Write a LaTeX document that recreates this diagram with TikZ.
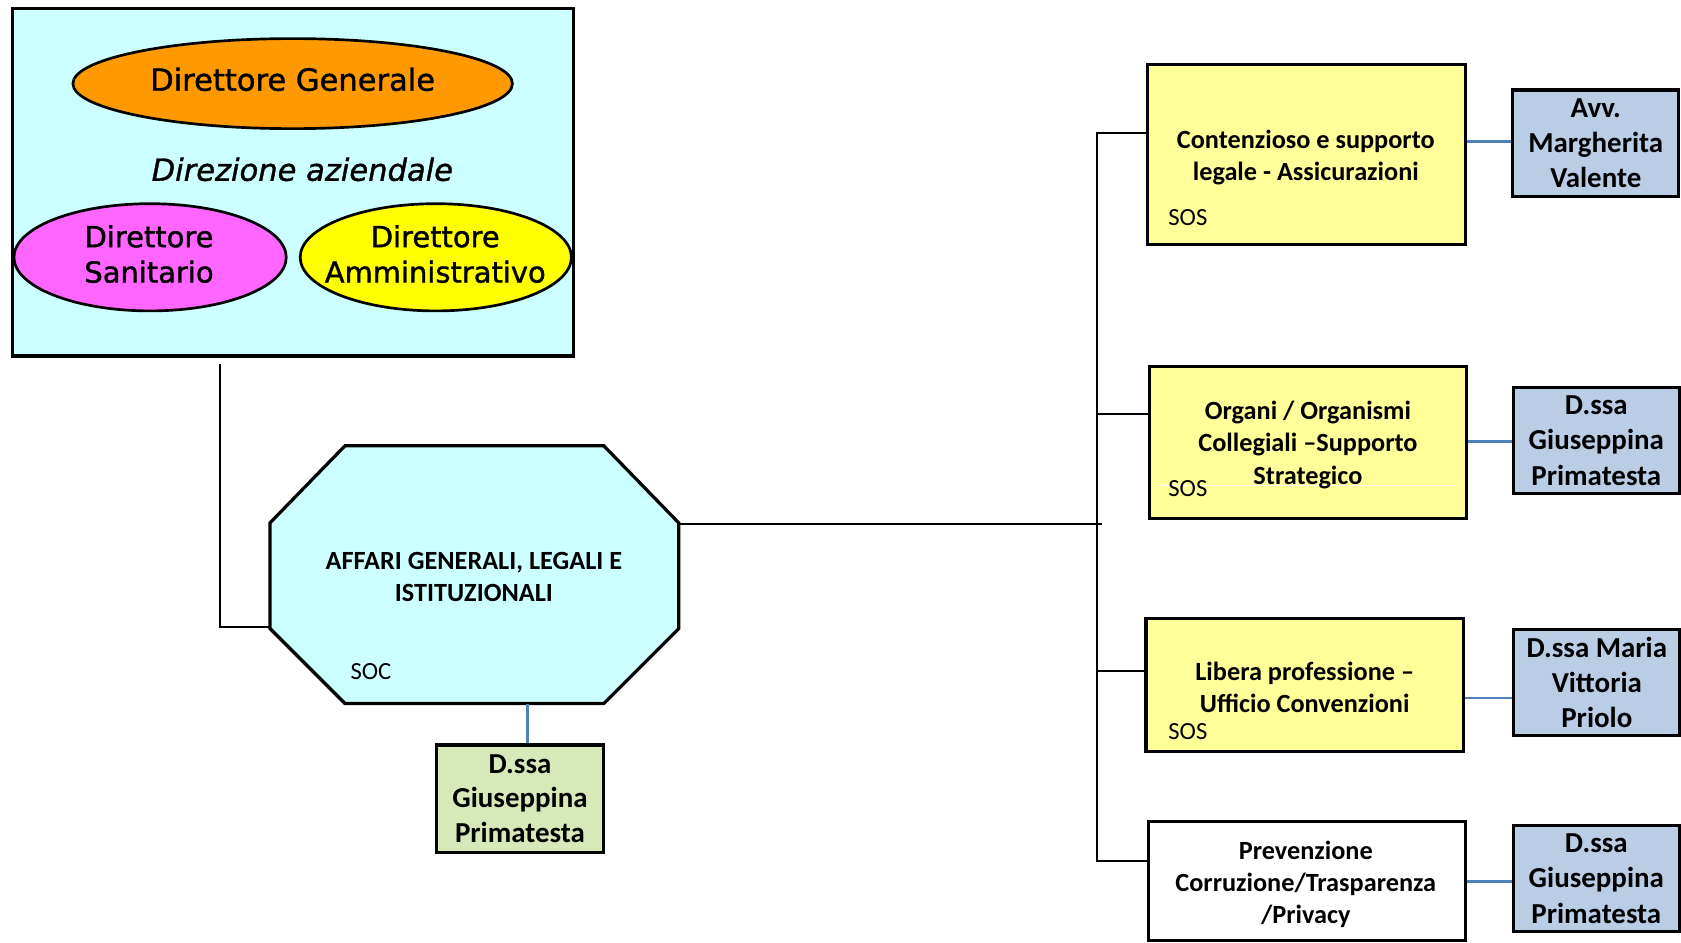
\documentclass[tikz,border=0pt]{standalone}
\usepackage{fontspec}
\setmainfont{Carlito}
\newfontfamily\dvs[FakeBold=1.2]{DejaVu Sans}
\usetikzlibrary{calc,shapes.geometric}
\definecolor{cyanbg}{HTML}{CCFFFF}
\definecolor{orangeel}{HTML}{FF9900}
\definecolor{magel}{HTML}{FF66FF}
\definecolor{yelel}{HTML}{FFFF00}
\definecolor{yelbox}{HTML}{FFFF99}
\definecolor{bluebox}{HTML}{B9CDE5}
\definecolor{greenbox}{HTML}{D7E9B9}
\definecolor{blueline}{HTML}{4F81BD}
\tikzset{
  unitbox/.style={draw=black, line width=3pt, fill=yelbox, inner sep=0pt},
  unittext/.style={align=center, inner sep=0pt, font=\bfseries\fontsize{24.5}{30}\selectfont},
  personbox/.style={draw=black, line width=3pt, fill=bluebox, align=center, inner sep=0pt,
    minimum width=155pt, minimum height=99pt, font=\bfseries\fontsize{27}{33}\selectfont},
  dirEllipse/.style={ellipse, draw=black, line width=2.5pt, inner sep=0pt},
  eltext/.style={align=center, inner sep=0pt, font=\dvs\fontsize{27}{33}\selectfont},
  tag/.style={anchor=center, inner sep=0pt, font=\fontsize{23}{28}\selectfont},
  link/.style={black, line width=1.8pt},
  bluelink/.style={blueline, line width=2.5pt}
}
\begin{document}
\begin{tikzpicture}[x=1pt,y=-1pt]
\useasboundingbox (0,0) rectangle (1568,879);
\fill[white] (0,0) rectangle (1568,879);

% Direzione aziendale
\node[draw=black, line width=3pt, fill=cyanbg, minimum width=523pt, minimum height=324pt, inner sep=0pt] (dir) at (273.5,170) {};
\node[dirEllipse, fill=orangeel, minimum width=410pt, minimum height=84pt] (dg) at (273,78) {};
\node[eltext, font=\dvs\fontsize{28.5}{33}\selectfont] (dgt) at (273,74) {Direttore Generale};
\node[inner sep=0pt, font=\dvs\itshape\fontsize{28.5}{33}\selectfont] (daz) at (282,158) {Direzione aziendale};
\node[dirEllipse, fill=magel, minimum width=254pt, minimum height=100pt] (ds) at (140,240) {};
\node[eltext] (dst) at (139,237) {Direttore\\Sanitario};
\node[dirEllipse, fill=yelel, minimum width=253pt, minimum height=100pt] (da) at (406.5,240) {};
\node[eltext] (dat) at (406,237) {Direttore\\Amministrativo};

% SOC octagon
\node[minimum width=381pt, minimum height=240pt, inner sep=0pt] (soc) at (442.5,536) {};
\fill[cyanbg] ($(soc.north west)+(70,0)$) -- ($(soc.north east)+(-70,0)$) -- ($(soc.north east)+(0,72)$)
  -- ($(soc.south east)+(0,-70)$) -- ($(soc.south east)+(-70,0)$) -- ($(soc.south west)+(70,0)$)
  -- ($(soc.south west)+(0,-70)$) -- ($(soc.north west)+(0,72)$) -- cycle;
\draw[black, line width=3pt, line join=miter] ($(soc.north west)+(70,0)$) -- ($(soc.north east)+(-70,0)$) -- ($(soc.north east)+(0,72)$)
  -- ($(soc.south east)+(0,-70)$) -- ($(soc.south east)+(-70,0)$) -- ($(soc.south west)+(70,0)$)
  -- ($(soc.south west)+(0,-70)$) -- ($(soc.north west)+(0,72)$) -- cycle;
\node[unittext] (soct) at (442,538) {AFFARI GENERALI, LEGALI E\\ISTITUZIONALI};
\node[tag] (socl) at (346,626) {SOC};

% green person box
\node[draw=black, line width=3pt, fill=greenbox, align=center, inner sep=0pt,
  minimum width=156pt, minimum height=100pt, font=\bfseries\fontsize{27}{32.5}\selectfont] (gp) at (485,745) {D.ssa\\Giuseppina\\Primatesta};

% SOS boxes
\node[unitbox, minimum width=297pt, minimum height=168pt] (b1) at (1218.5,144) {};
\node[unittext] (b1t) at (1218,147) {Contenzioso e supporto\\legale - Assicurazioni};
\node[tag] (b1l) at (1108,203) {SOS};
\node[unitbox, minimum width=296pt, minimum height=142pt] (b2) at (1220,413) {};
\draw[white, line width=1pt] (1080,453) -- (1360,453);
\node[unittext] (b2t) at (1220,415) {Organi / Organismi\\Collegiali --Supporto\\Strategico};
\node[tag] (b2l) at (1108,456) {SOS};
\node[unitbox, minimum width=296pt, minimum height=124pt] (b3) at (1217,639) {};
\node[unittext] (b3t) at (1217,641) {Libera professione --\\Ufficio Convenzioni};
\node[tag] (b3l) at (1108,682) {SOS};
\node[unitbox, fill=white, minimum width=296pt, minimum height=111pt] (b4) at (1219,821.5) {};
\node[unittext] (b4t) at (1218,825) {Prevenzione\\Corruzione/Trasparenza\\/Privacy};

% person boxes
\node[personbox] (p1) at (1488.5,133.5) {Avv.\\Margherita\\Valente};
\node[personbox] (p2) at (1489,411) {D.ssa\\Giuseppina\\Primatesta};
\node[personbox] (p3) at (1489.5,636.5) {D.ssa Maria\\Vittoria\\Priolo};
\node[personbox] (p4) at (1489,819.5) {D.ssa\\Giuseppina\\Primatesta};

% connectors
\coordinate (spinetop) at (1023,124);
\coordinate (spinebot) at (1023,803);
\coordinate (busend) at (1028,489);
\draw[link] ($(dir.south -| 205,0)+(0,6)$) |- (soc.west |- 0,585);
\draw[link] (soc.east |- busend) -- (busend);
\draw[link] (b1.west |- spinetop) -- (spinetop) -- (spinebot) -- (b4.west |- spinebot);
\draw[link] (b2.west |- 0,386) -- (spinetop |- 0,386);
\draw[link] (b3.west |- 0,626) -- (spinetop |- 0,626);

\draw[bluelink] (soc.south -| 492,0) -- (gp.north -| 492,0);
\draw[bluelink] (b1.east |- 0,132) -- (p1.west |- 0,132);
\draw[bluelink] (b2.east |- 0,412) -- (p2.west |- 0,412);
\draw[bluelink] (b3.east |- 0,651) -- (p3.west |- 0,651);
\draw[bluelink] (b4.east |- 0,822) -- (p4.west |- 0,822);
\end{tikzpicture}
\end{document}
